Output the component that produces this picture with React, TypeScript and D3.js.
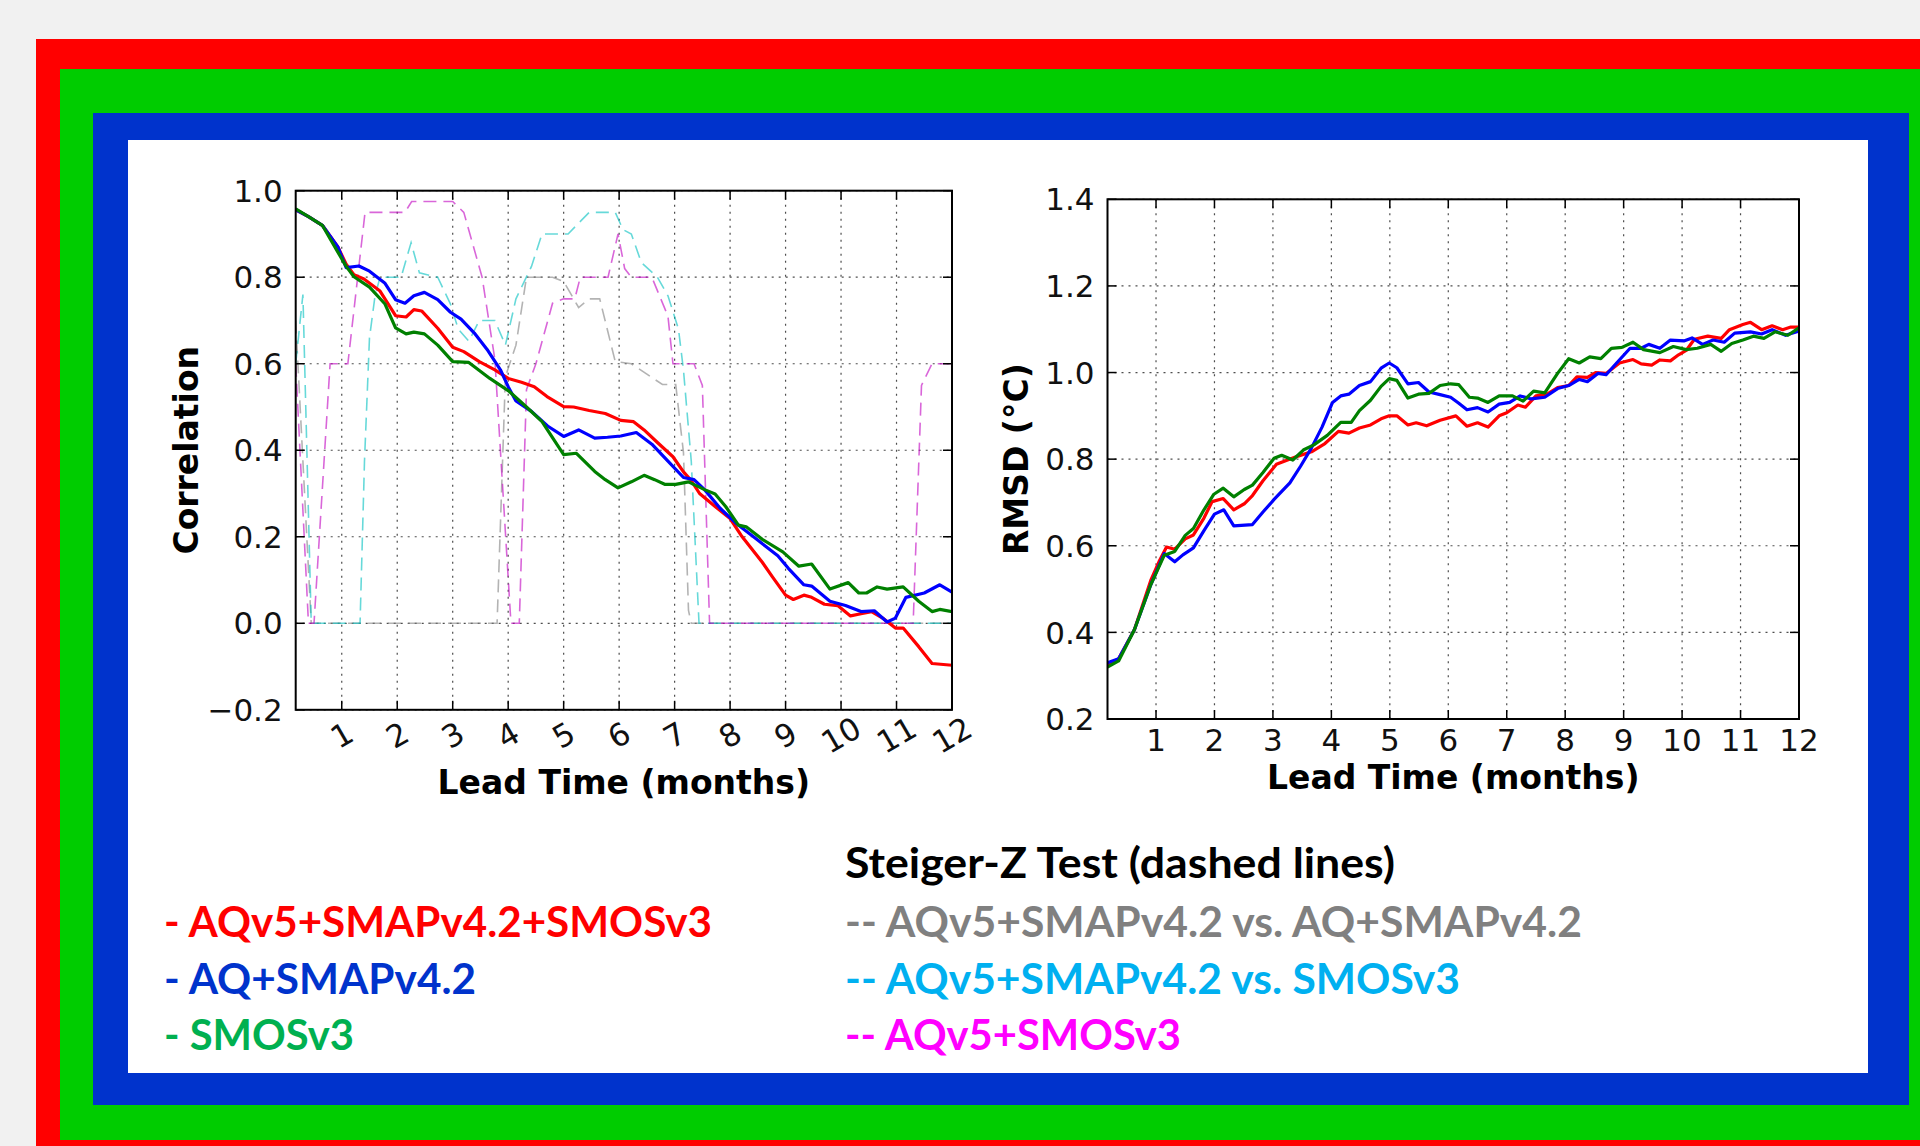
import React from 'react';
import * as d3 from 'd3';

type Pt = [number, number];

// x axis: lead time in months, data starts at ~1/6 month
const X_START = 0.17;
const months = [1, 2, 3, 4, 5, 6, 7, 8, 9, 10, 11, 12];
const corrTicks = [-0.2, 0.0, 0.2, 0.4, 0.6, 0.8, 1.0];
const rmsdTicks = [0.2, 0.4, 0.6, 0.8, 1.0, 1.2, 1.4];

// Correlation, solid lines
const corrAll: Pt[] = [
  [0.17, 0.956], [0.4, 0.94], [0.65, 0.92], [0.93, 0.87], [1.08, 0.83], [1.22, 0.806], [1.4, 0.796],
  [1.69, 0.768], [1.97, 0.711], [2.16, 0.708], [2.3, 0.725], [2.44, 0.722], [2.73, 0.682], [3.0, 0.638],
  [3.2, 0.628], [3.48, 0.605], [3.76, 0.586], [4.0, 0.566], [4.24, 0.557], [4.47, 0.547], [4.7, 0.524],
  [5.0, 0.501], [5.18, 0.5], [5.46, 0.492], [5.75, 0.485], [6.03, 0.469], [6.26, 0.466], [6.45, 0.447],
  [6.69, 0.418], [6.97, 0.385], [7.16, 0.35], [7.3, 0.33], [7.45, 0.3], [7.73, 0.27], [8.0, 0.242],
  [8.2, 0.203], [8.58, 0.141], [8.76, 0.108], [9.0, 0.065], [9.14, 0.055], [9.33, 0.065], [9.47, 0.06],
  [9.7, 0.044], [9.94, 0.041], [10.17, 0.017], [10.36, 0.022], [10.55, 0.027], [10.75, 0.012],
  [10.98, -0.011], [11.12, -0.011], [11.4, -0.054], [11.64, -0.093], [12, -0.097],
];
const corrAq: Pt[] = [
  [0.17, 0.956], [0.4, 0.94], [0.65, 0.92], [0.93, 0.87], [1.08, 0.822], [1.31, 0.826], [1.5, 0.814],
  [1.78, 0.786], [1.97, 0.748], [2.14, 0.74], [2.3, 0.757], [2.49, 0.765], [2.73, 0.748], [2.96, 0.719],
  [3.15, 0.703], [3.39, 0.671], [3.62, 0.633], [3.86, 0.586], [4.0, 0.547], [4.14, 0.514], [4.42, 0.49],
  [4.71, 0.456], [5.0, 0.432], [5.27, 0.447], [5.56, 0.428], [5.79, 0.43], [6.03, 0.433], [6.31, 0.441],
  [6.59, 0.414], [6.88, 0.375], [7.16, 0.337], [7.35, 0.332], [7.54, 0.309], [7.82, 0.266], [8.1, 0.232],
  [8.48, 0.194], [8.86, 0.156], [9.05, 0.127], [9.33, 0.089], [9.47, 0.086], [9.8, 0.051], [10.08, 0.041],
  [10.36, 0.027], [10.6, 0.029], [10.83, 0.003], [10.98, 0.012], [11.17, 0.06], [11.5, 0.07],
  [11.78, 0.089], [12, 0.072],
];
const corrSmos: Pt[] = [
  [0.17, 0.958], [0.4, 0.94], [0.65, 0.92], [0.93, 0.858], [1.08, 0.825], [1.22, 0.801], [1.5, 0.777],
  [1.78, 0.738], [1.97, 0.683], [2.16, 0.669], [2.3, 0.673], [2.49, 0.669], [2.73, 0.643], [3.0, 0.605],
  [3.29, 0.603], [3.67, 0.566], [4.0, 0.538], [4.33, 0.5], [4.61, 0.466], [5.0, 0.39], [5.23, 0.393],
  [5.56, 0.351], [5.75, 0.332], [5.98, 0.313], [6.22, 0.327], [6.45, 0.342], [6.64, 0.332], [6.83, 0.321],
  [7.02, 0.321], [7.25, 0.327], [7.54, 0.309], [7.73, 0.299], [7.92, 0.27], [8.15, 0.227], [8.29, 0.223],
  [8.58, 0.194], [8.95, 0.165], [9.24, 0.132], [9.47, 0.137], [9.8, 0.079], [10.13, 0.094], [10.32, 0.07],
  [10.46, 0.07], [10.65, 0.084], [10.83, 0.079], [11.12, 0.084], [11.4, 0.051], [11.64, 0.027],
  [11.78, 0.032], [12, 0.027],
];

// Steiger-Z test, dashed lines
const steigerAllVsAq: Pt[] = [
  [0.17, 0.7], [0.45, 0], [3.8, 0], [3.95, 0.57], [4.14, 0.643], [4.33, 0.8], [4.8, 0.8], [5.0, 0.79],
  [5.27, 0.73], [5.46, 0.75], [5.65, 0.75], [5.93, 0.605], [6.22, 0.6], [6.5, 0.576], [6.78, 0.552],
  [7.02, 0.552], [7.16, 0.394], [7.25, 0.03], [7.3, 0], [12, 0],
];
const steigerAllVsSmos: Pt[] = [
  [0.17, 0.6], [0.3, 0.76], [0.45, 0], [1.33, 0], [1.41, 0.375], [1.5, 0.66], [1.6, 0.757], [1.69, 0.8],
  [2.07, 0.8], [2.25, 0.88], [2.4, 0.81], [2.73, 0.8], [2.96, 0.738], [3.1, 0.68], [3.29, 0.652],
  [3.48, 0.7], [3.76, 0.7], [3.95, 0.643], [4.14, 0.75], [4.42, 0.825], [4.61, 0.9], [5.08, 0.9],
  [5.46, 0.95], [5.93, 0.95], [6.07, 0.91], [6.22, 0.9], [6.4, 0.834], [6.69, 0.8], [6.88, 0.757],
  [7.07, 0.68], [7.16, 0.585], [7.3, 0.375], [7.44, 0], [12, 0],
];
const steigerAqSmos: Pt[] = [
  [0.17, 0.6], [0.4, 0], [0.5, 0], [0.79, 0.6], [1.11, 0.6], [1.42, 0.95], [2.14, 0.95], [2.26, 0.975],
  [3.0, 0.975], [3.2, 0.95], [3.53, 0.8], [3.76, 0.61], [4.05, 0], [4.2, 0], [4.33, 0.54], [4.5, 0.6],
  [4.8, 0.74], [5.0, 0.75], [5.2, 0.75], [5.3, 0.8], [5.8, 0.8], [5.98, 0.9], [6.1, 0.82], [6.22, 0.8],
  [6.59, 0.8], [6.88, 0.71], [6.97, 0.6], [7.35, 0.6], [7.5, 0.55], [7.63, 0], [11.3, 0], [11.45, 0.55],
  [11.64, 0.6], [12, 0.6],
];

// RMSD (°C)
const rmsdAll: Pt[] = [
  [0.17, 0.324], [0.36, 0.339], [0.63, 0.406], [0.91, 0.52], [1.05, 0.563], [1.18, 0.597], [1.32, 0.592],
  [1.5, 0.616], [1.64, 0.625], [1.82, 0.664], [1.96, 0.702], [2.15, 0.709], [2.33, 0.683], [2.51, 0.697],
  [2.65, 0.716], [2.83, 0.75], [3.06, 0.788], [3.25, 0.798], [3.43, 0.807], [3.66, 0.817], [3.89, 0.836],
  [4.12, 0.864], [4.3, 0.86], [4.48, 0.872], [4.67, 0.879], [4.85, 0.893], [4.99, 0.9], [5.12, 0.9],
  [5.31, 0.879], [5.45, 0.884], [5.63, 0.877], [5.86, 0.89], [6.13, 0.9], [6.32, 0.876], [6.5, 0.884],
  [6.68, 0.874], [6.87, 0.9], [7.0, 0.907], [7.19, 0.925], [7.32, 0.92], [7.5, 0.946], [7.69, 0.95],
  [7.87, 0.965], [8.06, 0.97], [8.2, 0.99], [8.38, 0.989], [8.52, 1.0], [8.7, 0.998], [8.93, 1.022],
  [9.16, 1.03], [9.3, 1.02], [9.48, 1.017], [9.62, 1.029], [9.8, 1.027], [9.94, 1.041], [10.07, 1.051],
  [10.21, 1.077], [10.44, 1.084], [10.67, 1.079], [10.81, 1.099], [11.04, 1.111], [11.17, 1.116],
  [11.36, 1.099], [11.54, 1.108], [11.72, 1.099], [11.86, 1.105], [12, 1.105],
];
const rmsdAq: Pt[] = [
  [0.17, 0.33], [0.36, 0.339], [0.63, 0.406], [0.91, 0.51], [1.14, 0.582], [1.32, 0.563], [1.46, 0.579],
  [1.64, 0.595], [1.82, 0.635], [2.0, 0.673], [2.16, 0.683], [2.33, 0.646], [2.65, 0.649], [2.83, 0.678],
  [3.02, 0.707], [3.29, 0.745], [3.47, 0.783], [3.66, 0.826], [3.84, 0.874], [4.02, 0.931], [4.16, 0.946],
  [4.3, 0.95], [4.48, 0.97], [4.67, 0.979], [4.85, 1.01], [4.99, 1.022], [5.12, 1.011], [5.31, 0.974],
  [5.49, 0.977], [5.67, 0.955], [5.86, 0.949], [6.04, 0.943], [6.18, 0.929], [6.32, 0.914], [6.5, 0.919],
  [6.68, 0.909], [6.87, 0.927], [7.05, 0.931], [7.23, 0.946], [7.42, 0.939], [7.65, 0.943], [7.87, 0.963],
  [8.06, 0.97], [8.24, 0.984], [8.38, 0.979], [8.56, 0.998], [8.7, 0.995], [8.88, 1.022], [9.11, 1.056],
  [9.3, 1.056], [9.43, 1.065], [9.62, 1.056], [9.8, 1.075], [10.03, 1.073], [10.17, 1.08], [10.35, 1.065],
  [10.53, 1.075], [10.72, 1.07], [10.9, 1.091], [11.17, 1.094], [11.36, 1.089], [11.54, 1.099],
  [11.77, 1.086], [12, 1.096],
];
const rmsdSmos: Pt[] = [
  [0.17, 0.32], [0.36, 0.334], [0.63, 0.406], [0.91, 0.51], [1.14, 0.578], [1.32, 0.587], [1.5, 0.624],
  [1.64, 0.64], [1.82, 0.683], [1.99, 0.719], [2.15, 0.733], [2.33, 0.713], [2.51, 0.73], [2.65, 0.74],
  [2.83, 0.769], [3.02, 0.802], [3.15, 0.809], [3.34, 0.798], [3.52, 0.821], [3.7, 0.833], [3.93, 0.855],
  [4.16, 0.885], [4.34, 0.885], [4.48, 0.912], [4.67, 0.936], [4.85, 0.968], [4.99, 0.986], [5.12, 0.982],
  [5.31, 0.941], [5.49, 0.95], [5.67, 0.952], [5.86, 0.97], [6.04, 0.974], [6.18, 0.972], [6.36, 0.943],
  [6.5, 0.941], [6.68, 0.931], [6.87, 0.946], [7.1, 0.946], [7.28, 0.934], [7.46, 0.957], [7.65, 0.953],
  [7.87, 0.998], [8.06, 1.032], [8.24, 1.022], [8.42, 1.036], [8.61, 1.032], [8.79, 1.056], [8.97, 1.058],
  [9.16, 1.07], [9.34, 1.053], [9.62, 1.046], [9.85, 1.06], [10.07, 1.053], [10.26, 1.056], [10.49, 1.065],
  [10.67, 1.049], [10.85, 1.067], [11.04, 1.075], [11.22, 1.084], [11.4, 1.079], [11.59, 1.094],
  [11.81, 1.086], [12, 1.103],
];

const legendLeft = ['- AQv5+SMAPv4.2+SMOSv3', '- AQ+SMAPv4.2', '- SMOSv3'];
const legendTitle = 'Steiger-Z Test (dashed lines)';
const legendRight = ['-- AQv5+SMAPv4.2 vs. AQ+SMAPv4.2', '-- AQv5+SMAPv4.2 vs. SMOSv3', '-- AQv5+SMOSv3'];

const lineColors = ['#ff0000', '#0000ff', '#008000'];
const dashColors = ['#808080', '#00bfbf', '#bf00bf'];
const legendLeftColors = ['#ff0000', '#0033cc', '#00b050'];
const legendRightColors = ['#808080', '#00b0f0', '#ff00ff'];
const legendLeftWidths = [548, 312, 190];
const legendRightWidths = [737, 615, 336];

const TICK_FONT = '"DejaVu Sans", sans-serif';

type PanelProps = {
  id: string;
  left: number; right: number; top: number; bottom: number;
  yDomain: [number, number];
  yTicks: number[];
  solid: Pt[][];
  dashed: Pt[][];
  rotate: boolean;
  xTickY: number;
  yLabel: string;
  yLabelX: number;
  xLabelY: number;
};

function Panel(p: PanelProps) {
  const x = d3.scaleLinear().domain([X_START, 12]).range([p.left, p.right]);
  const y = d3.scaleLinear().domain(p.yDomain).range([p.bottom, p.top]);
  const line = d3.line<Pt>().x(d => x(d[0])).y(d => y(d[1]));
  const fmt = d3.format('.1f');
  const tl = 9;
  const midY = (p.top + p.bottom) / 2;
  return (
    <g>
      <defs>
        <clipPath id={p.id}>
          <rect x={p.left} y={p.top} width={p.right - p.left} height={p.bottom - p.top} />
        </clipPath>
      </defs>
      {/* grid */}
      <g stroke="#222" strokeWidth={1.2} strokeDasharray="2,5" opacity={0.8}>
        {months.map(m => <line key={'gx' + m} x1={x(m)} x2={x(m)} y1={p.top} y2={p.bottom} />)}
        {p.yTicks.map(t => <line key={'gy' + t} x1={p.left} x2={p.right} y1={y(t)} y2={y(t)} />)}
      </g>
      <g clipPath={`url(#${p.id})`} fill="none">
        {p.dashed.map((s, i) => (
          <path key={'d' + i} d={line(s) || ''} stroke={dashColors[i]} strokeOpacity={0.6}
            strokeWidth={1.6} strokeDasharray="13,7" />
        ))}
        {p.solid.map((s, i) => (
          <path key={'s' + i} d={line(s) || ''} stroke={lineColors[i]} strokeWidth={3.2}
            strokeLinejoin="round" />
        ))}
      </g>
      {/* ticks */}
      <g stroke="#000" strokeWidth={1.5}>
        {months.map(m => (
          <g key={'tx' + m}>
            <line x1={x(m)} x2={x(m)} y1={p.bottom} y2={p.bottom - tl} />
            <line x1={x(m)} x2={x(m)} y1={p.top} y2={p.top + tl} />
          </g>
        ))}
        {p.yTicks.map(t => (
          <g key={'ty' + t}>
            <line x1={p.left} x2={p.left + tl} y1={y(t)} y2={y(t)} />
            <line x1={p.right} x2={p.right - tl} y1={y(t)} y2={y(t)} />
          </g>
        ))}
      </g>
      <rect x={p.left} y={p.top} width={p.right - p.left} height={p.bottom - p.top}
        fill="none" stroke="#000" strokeWidth={2} />
      {/* tick labels */}
      <g fontFamily={TICK_FONT} fontSize={31} fill="#111">
        {p.yTicks.map(t => (
          <text key={'ly' + t} x={p.left - 13} y={y(t)} dy="0.36em" textAnchor="end">{fmt(t)}</text>
        ))}
        {months.map(m => p.rotate ? (
          <text key={'lx' + m} x={x(m)} y={p.xTickY} textAnchor="middle" dominantBaseline="central"
            transform={`rotate(-30 ${x(m)} ${p.xTickY})`}>{m}</text>
        ) : (
          <text key={'lx' + m} x={x(m)} y={p.xTickY} textAnchor="middle">{m}</text>
        ))}
      </g>
      <g fontFamily={TICK_FONT} fontSize={33} fontWeight="bold" fill="#000">
        <text x={(p.left + p.right) / 2} y={p.xLabelY} textAnchor="middle">Lead Time (months)</text>
        <text x={p.yLabelX} y={midY} textAnchor="middle"
          transform={`rotate(-90 ${p.yLabelX} ${midY})`}>{p.yLabel}</text>
      </g>
    </g>
  );
}

export default function App() {
  const legendFont = 'Lato, "Open Sans", sans-serif';
  const rowY = [937, 993.5, 1050];
  return (
    <svg width={1920} height={1146} style={{ position: 'absolute', left: 0, top: 0 }}>
      <rect x={0} y={0} width={1920} height={1146} fill="#f1f1f1" />
      <rect x={36} y={39} width={1884} height={1107} fill="#ff0000" />
      <rect x={60} y={69} width={1860} height={1071} fill="#00cc00" />
      <rect x={93} y={113} width={1816} height={992} fill="#0033cc" />
      <rect x={128} y={140} width={1740} height={933} fill="#ffffff" />

      <Panel id="clipCorr" left={295.7} right={952} top={190.7} bottom={709.8}
        yDomain={[-0.2, 1.0]} yTicks={corrTicks}
        solid={[corrAll, corrAq, corrSmos]}
        dashed={[steigerAllVsAq, steigerAllVsSmos, steigerAqSmos]}
        rotate={true} xTickY={735} yLabel="Correlation" yLabelX={198} xLabelY={794} />
      <Panel id="clipRmsd" left={1107.5} right={1799} top={199.3} bottom={719}
        yDomain={[0.2, 1.4]} yTicks={rmsdTicks}
        solid={[rmsdAll, rmsdAq, rmsdSmos]} dashed={[]}
        rotate={false} xTickY={751} yLabel="RMSD (°C)" yLabelX={1028.5} xLabelY={789} />

      <g fontFamily={legendFont} fontWeight="bold" fontSize={42}>
        <text x={845} y={878} fill="#000" textLength={550} lengthAdjust="spacingAndGlyphs">{legendTitle}</text>
        {legendLeft.map((t, i) => (
          <text key={'ll' + i} x={164} y={rowY[i]} fill={legendLeftColors[i]}
            textLength={legendLeftWidths[i]} lengthAdjust="spacingAndGlyphs">{t}</text>
        ))}
        {legendRight.map((t, i) => (
          <text key={'lr' + i} x={845} y={rowY[i]} fill={legendRightColors[i]}
            textLength={legendRightWidths[i]} lengthAdjust="spacingAndGlyphs">{t}</text>
        ))}
      </g>
    </svg>
  );
}
